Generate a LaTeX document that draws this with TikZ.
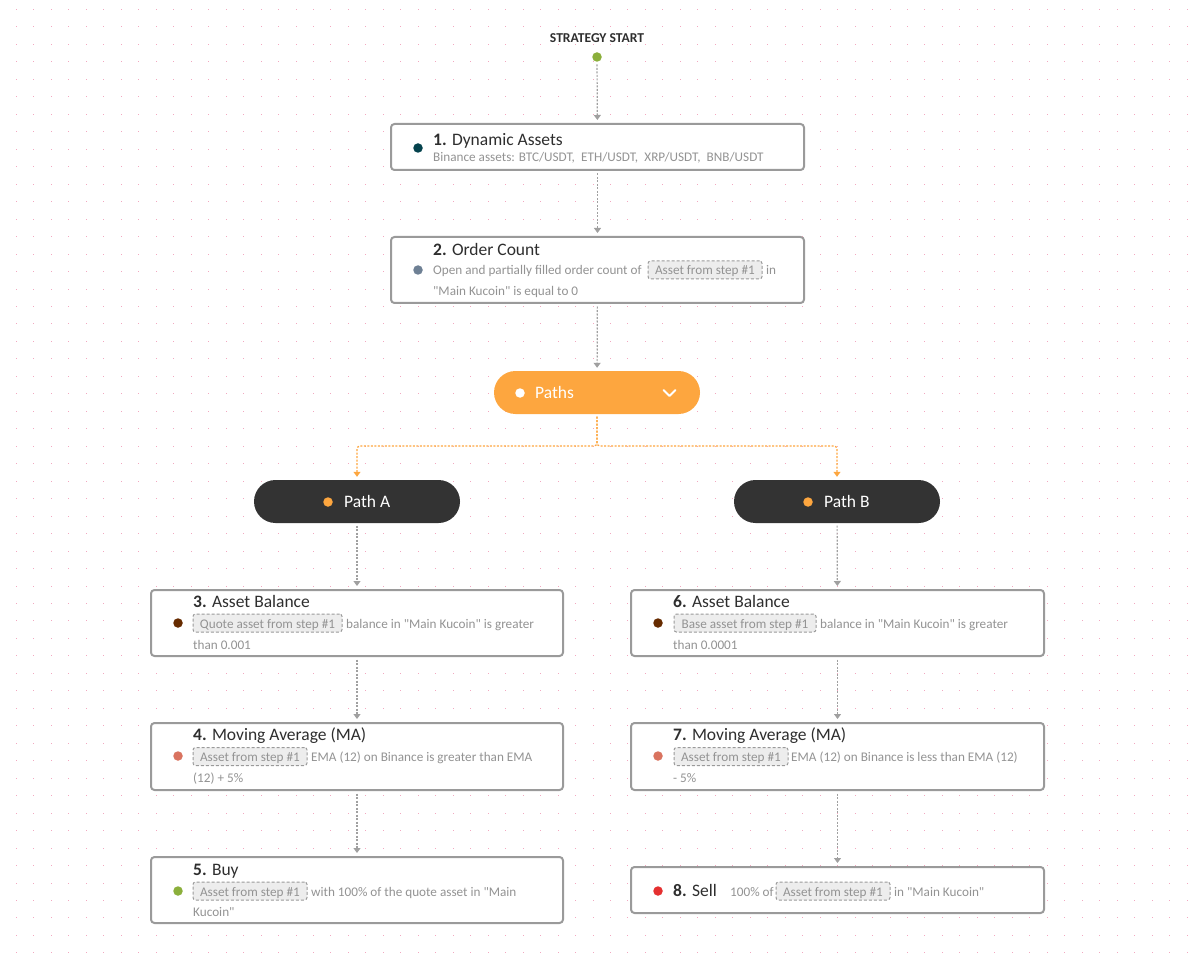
\documentclass[tikz,border=0pt]{standalone}
\usepackage{fontspec}
\setmainfont{Carlito}[Ligatures=TeXOff]
\usetikzlibrary{arrows.meta}
\definecolor{gridpink}{HTML}{F2A8C0}
\definecolor{framegray}{HTML}{9A9A9A}
\definecolor{inktext}{HTML}{2E2E2E}
\definecolor{subtext}{HTML}{939393}
\definecolor{linkgray}{HTML}{A0A0A0}
\definecolor{pathorange}{HTML}{FDA63F}
\definecolor{pathdark}{HTML}{333333}
\definecolor{dotgreen}{HTML}{8BAF3B}
\definecolor{dotteal}{HTML}{04424D}
\definecolor{dotslate}{HTML}{6E8094}
\definecolor{dotbrown}{HTML}{662B00}
\definecolor{dotsalmon}{HTML}{D9735F}
\definecolor{dotred}{HTML}{E53030}
\tikzset{
  stepbox/.style={draw=framegray, line width=2pt, fill=white, rounded corners=3.5pt, inner sep=0pt},
  pathpill/.style={rounded corners=21.5pt, inner sep=0pt, minimum height=43pt, minimum width=206pt},
  stepdot/.style={circle, inner sep=0pt, minimum size=9.5pt},
  steptitle/.style={anchor=base west, inner sep=0pt, text=inktext, font=\fontsize{17.5}{20}\selectfont},
  pathtext/.style={anchor=base west, inner sep=0pt, text=white, font=\fontsize{17.5}{20}\selectfont},
  stepsub/.style={anchor=base west, inner sep=0pt, text=subtext, font=\fontsize{13.2}{16}\selectfont},
  stepchip/.style={draw=framegray, dash pattern=on 3pt off 2pt, line width=1pt, fill=black!7, rounded corners=2.5pt,
    inner sep=0pt, minimum height=18pt, text height=12pt, text depth=2pt, text=subtext, font=\fontsize{13.2}{16}\selectfont},
  steplink/.style={draw=linkgray, line width=1.2pt, dash pattern=on 2pt off 1.5pt, shorten <=2.5pt, shorten >=3pt,
    -{Triangle[width=7pt,length=5pt,fill=linkgray]}},
  forklink/.style={steplink, draw=pathorange, rounded corners=3pt, -{Triangle[width=7pt,length=5pt,fill=pathorange]}},
}
\begin{document}
\begin{tikzpicture}[x=1pt, y=-1pt]
  \useasboundingbox (0,0) rectangle (1195,960);
  % Punktraster
  \foreach \i in {0,...,67} {
    \foreach \j in {0,...,54} {
      \fill[gridpink] ({16+\i*17.47},{9+\j*17.47}) rectangle +(1,1);
    }
  }
  % Start
  \node[inner sep=0pt, text=inktext, font=\fontsize{13.6}{16}\selectfont\bfseries] (startlabel) at (597,38.5) {STRATEGY START};
  \node[stepdot, fill=dotgreen] (start) at (597,57) {};
  % Schrittboxen
  \foreach \name/\xa/\ya/\xb/\yb in {box1/391/124/804/170, box2/391/237/804/303, box3/151/590/563/656, box4/151/723/563/790,
    box5/151/857/563/923, box6/631/590/1044/656, box7/631/723/1044/790, box8/631/867/1044/913} {
    \node[stepbox, minimum width={(\xb-\xa)*1pt}, minimum height={(\yb-\ya)*1pt}] (\name) at ({(\xa+\xb)/2},{(\ya+\yb)/2}) {};
  }
  % Pillen
  \node[pathpill, fill=pathorange] (paths) at (597,392.5) {};
  \node[pathpill, fill=pathdark] (patha) at (357,501.5) {};
  \node[pathpill, fill=pathdark] (pathb) at (837,501.5) {};
  \node[stepdot, fill=white] (pathsdot) at (520,393) {};
  \node[pathtext] (pathslabel) at (535,398) {Paths};
  \node[stepdot, fill=pathorange] (pathadot) at (328,502) {};
  \node[pathtext] (pathalabel) at (344,507) {Path A};
  \node[stepdot, fill=pathorange] (pathbdot) at (808,502) {};
  \node[pathtext] (pathblabel) at (824,507) {Path B};
  \draw[white, line width=1.8pt, line cap=round, line join=round] (663.5,390) -- (669.5,396) -- (675.5,390);
  % Verbindungen
  \draw[steplink] (start) -- (box1);
  \draw[steplink] (box1) -- (box2);
  \draw[steplink] (box2) -- (paths);
  \coordinate (fork) at (597,446);
  \draw[forklink] (paths.south) -- (fork) -| (patha.north);
  \draw[forklink] (paths.south) -- (fork) -| (pathb.north);
  \draw[steplink] (patha) -- (box3);
  \draw[steplink] (box3) -- (box4);
  \draw[steplink] (box4) -- (box5);
  \draw[steplink] (pathb) -- (box6);
  \draw[steplink] (box6) -- (box7);
  \draw[steplink] (box7) -- (box8);
  % Punkte in den Boxen
  \foreach \name/\px/\py/\col in {dot1/418/148/dotteal, dot2/418/270/dotslate, dot3/178/623/dotbrown, dot4/178/756/dotsalmon,
    dot5/178/891/dotgreen, dot6/658/623/dotbrown, dot7/658/756/dotsalmon, dot8/658/891/dotred} {
    \node[stepdot, fill=\col] (\name) at (\px,\py) {};
  }
  % Titel
  \node[steptitle] (title1) at (433,145.5) {\textbf{1.} Dynamic Assets};
  \node[steptitle] (title2) at (433,255.5) {\textbf{2.} Order Count};
  \node[steptitle] (title3) at (193,607) {\textbf{3.} Asset Balance};
  \node[steptitle] (title4) at (193,740) {\textbf{4.} Moving Average (MA)};
  \node[steptitle] (title5) at (193,875) {\textbf{5.} Buy};
  \node[steptitle] (title6) at (673,607) {\textbf{6.} Asset Balance};
  \node[steptitle] (title7) at (673,740) {\textbf{7.} Moving Average (MA)};
  \node[steptitle] (title8) at (673,896) {\textbf{8.} Sell};
  % Markierungen
  \node[stepchip, minimum width=114pt] (chip2) at (705,270) {Asset from step \#1};
  \node[stepchip, minimum width=149pt] (chip3) at (267.5,623) {Quote asset from step \#1};
  \node[stepchip, minimum width=114pt] (chip4) at (250,756.5) {Asset from step \#1};
  \node[stepchip, minimum width=114pt] (chip5) at (250,891) {Asset from step \#1};
  \node[stepchip, minimum width=142pt] (chip6) at (745,623) {Base asset from step \#1};
  \node[stepchip, minimum width=114pt] (chip7) at (731,756.5) {Asset from step \#1};
  \node[stepchip, minimum width=114pt] (chip8) at (833,891) {Asset from step \#1};
  % Beschreibungen
  \node[stepsub] (sub1) at (433,162) {Binance assets: BTC/USDT,\hspace{3.2pt} ETH/USDT,\hspace{3.2pt} XRP/USDT,\hspace{3.2pt} BNB/USDT};
  \node[stepsub] (sub2a) at (433,275) {Open and partially filled order count of};
  \node[stepsub] (sub2b) at (766,275) {in};
  \node[stepsub] (sub2c) at (433,296) {"Main Kucoin" is equal to 0};
  \node[stepsub] (sub3a) at (346,628) {balance in "Main Kucoin" is greater};
  \node[stepsub] (sub3b) at (193,649) {than 0.001};
  \node[stepsub] (sub4a) at (311,761) {EMA (12) on Binance is greater than EMA};
  \node[stepsub] (sub4b) at (193,782) {(12) + 5\%};
  \node[stepsub] (sub5a) at (311,896) {with 100\% of the quote asset in "Main};
  \node[stepsub] (sub5b) at (193,916) {Kucoin"};
  \node[stepsub] (sub6a) at (820,628) {balance in "Main Kucoin" is greater};
  \node[stepsub] (sub6b) at (673,649) {than 0.0001};
  \node[stepsub] (sub7a) at (791,761) {EMA (12) on Binance is less than EMA (12)};
  \node[stepsub] (sub7b) at (673,782) {- 5\%};
  \node[stepsub] (sub8a) at (730,896) {100\% of};
  \node[stepsub] (sub8b) at (894,896) {in "Main Kucoin"};
\end{tikzpicture}
\end{document}
